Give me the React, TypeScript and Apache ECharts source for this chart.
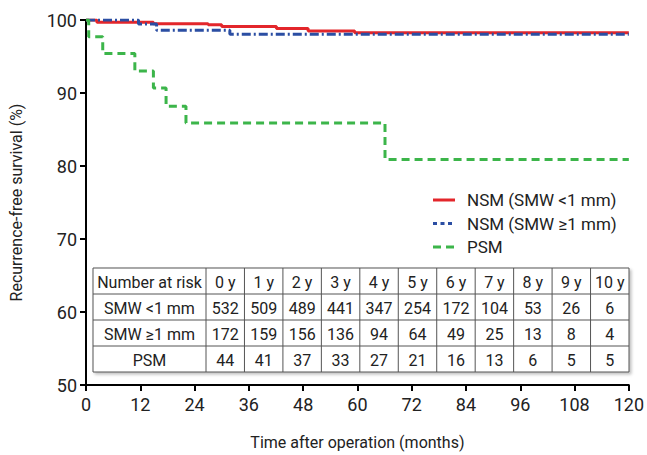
import React, { useEffect, useRef } from "react";
import * as echarts from "echarts";

// ---- Data ----
const seriesNames = ["NSM (SMW <1 mm)", "NSM (SMW \u22651 mm)", "PSM"];
const nsmLt1Times = [0, 2.4, 14.9, 27.0, 30.0, 42.1, 49.1, 59.4, 120];
const nsmLt1Surv = [100, 99.7, 99.5, 99.35, 99.1, 98.85, 98.5, 98.25, 98.25];
const nsmGe1Times = [0, 11.6, 15.6, 31.8, 120];
const nsmGe1Surv = [100, 99.45, 98.6, 98.05, 98.05];
const psmTimes = [0, 0.6, 3.7, 10.8, 14.9, 17.7, 22.1, 66.1, 120];
const psmSurv = [100, 97.7, 95.4, 93.0, 90.7, 88.2, 85.9, 80.9, 80.9];

const tableHeader = ["Number at risk", "0 y", "1 y", "2 y", "3 y", "4 y", "5 y", "6 y", "7 y", "8 y", "9 y", "10 y"];
const riskRowLabels = ["SMW <1 mm", "SMW \u22651 mm", "PSM"];
const riskLt1 = [532, 509, 489, 441, 347, 254, 172, 104, 53, 26, 6];
const riskGe1 = [172, 159, 156, 136, 94, 64, 49, 25, 13, 8, 4];
const riskPsm = [44, 41, 37, 33, 27, 21, 16, 13, 6, 5, 5];

const FONT = "'Liberation Sans Narrow', Roboto, 'Noto Sans', sans-serif";
const colors = ["#e3262b", "#2b4ea3", "#3cb54a"];
const legendDash: any[] = [null, [4, 3.5], [8, 5]];

function zip(t: number[], s: number[]) {
  return t.map((v, i) => [v, s[i]]);
}

function buildLegend() {
  const els: any[] = [];
  const x0 = 433;
  const y0 = 200;
  const gap = 23.5;
  seriesNames.forEach((name, i) => {
    const y = y0 + i * gap;
    els.push({
      type: "line",
      shape: { x1: x0, y1: y, x2: x0 + 22, y2: y },
      style: { stroke: colors[i], lineWidth: 3, lineDash: legendDash[i] },
      z: 20,
    });
    els.push({
      type: "text",
      x: x0 + 34,
      y: y,
      style: { text: name, fill: "#222", font: `17px ${FONT}`, align: "left", verticalAlign: "middle" },
      z: 20,
    });
  });
  return els;
}

function buildTable() {
  const left = 93;
  const top = 268;
  const firstW = 113;
  const right = 629;
  const rowH = 26;
  const nCols = tableHeader.length - 1;
  const colW = (right - left - firstW) / nCols;
  const rows = [tableHeader, ...[riskLt1, riskGe1, riskPsm].map((r, i) => [riskRowLabels[i], ...r.map(String)])];
  const height = rowH * rows.length;
  const els: any[] = [];
  els.push({
    type: "rect",
    shape: { x: left, y: top, width: right - left, height },
    style: {
      fill: "#fff",
      stroke: "#555",
      lineWidth: 1,
      shadowBlur: 3,
      shadowColor: "rgba(0,0,0,0.25)",
      shadowOffsetX: 2,
      shadowOffsetY: 2,
    },
    z: 10,
  });
  for (let r = 1; r < rows.length; r++) {
    els.push({
      type: "line",
      shape: { x1: left, y1: top + r * rowH, x2: right, y2: top + r * rowH },
      style: { stroke: "#555", lineWidth: 1 },
      z: 11,
    });
  }
  for (let c = 0; c < nCols; c++) {
    const x = left + firstW + c * colW;
    els.push({
      type: "line",
      shape: { x1: x, y1: top, x2: x, y2: top + height },
      style: { stroke: "#555", lineWidth: 1 },
      z: 11,
    });
  }
  rows.forEach((row, r) => {
    row.forEach((txt, c) => {
      const cx = c === 0 ? left + firstW / 2 : left + firstW + (c - 1) * colW + colW / 2;
      els.push({
        type: "text",
        x: cx,
        y: top + r * rowH + rowH / 2 + 1,
        style: {
          text: txt,
          fill: "#222",
          font: `16px ${FONT}`,
          align: "center",
          verticalAlign: "middle",
        },
        z: 12,
      });
    });
  });
  return els;
}

export default function App() {
  const ref = useRef<HTMLDivElement>(null);
  useEffect(() => {
    if (!ref.current) return;
    const chart = echarts.init(ref.current, undefined, { renderer: "svg" });
    const data = [zip(nsmLt1Times, nsmLt1Surv), zip(nsmGe1Times, nsmGe1Surv), zip(psmTimes, psmSurv)];
    const seriesDash: any[] = ["solid", [9, 3, 2, 3], [8, 5]];
    chart.setOption({
      animation: false,
      backgroundColor: "#fff",
      textStyle: { fontFamily: FONT },
      grid: { left: 86, right: 18, top: 20, bottom: 70 },
      xAxis: {
        type: "value",
        min: 0,
        max: 120,
        interval: 12,
        name: "Time after operation (months)",
        nameLocation: "middle",
        nameGap: 49,
        nameTextStyle: { fontSize: 16, color: "#222", fontFamily: FONT },
        axisLine: { lineStyle: { color: "#000", width: 2 } },
        axisTick: { length: 6, lineStyle: { color: "#000", width: 2 } },
        axisLabel: { fontSize: 18, color: "#222", margin: 10, fontFamily: FONT },
        splitLine: { show: false },
      },
      yAxis: {
        type: "value",
        min: 50,
        max: 100,
        interval: 10,
        name: "Recurrence-free survival (%)",
        nameLocation: "middle",
        nameGap: 62,
        nameTextStyle: { fontSize: 16, color: "#222", fontFamily: FONT },
        axisLine: { show: true, lineStyle: { color: "#000", width: 2 } },
        axisTick: { show: true, length: 6, lineStyle: { color: "#000", width: 2 } },
        axisLabel: { fontSize: 18, color: "#222", margin: 9, fontFamily: FONT },
        splitLine: { show: false },
      },
      series: seriesNames.map((name, i) => ({
        name,
        type: "line",
        step: "end",
        showSymbol: false,
        symbol: "none",
        data: data[i],
        z: 2 + i,
        lineStyle: { color: colors[i], width: 3, type: seriesDash[i] },
        itemStyle: { color: colors[i] },
      })),
      graphic: [...buildTable(), ...buildLegend()],
    });
    return () => chart.dispose();
  }, []);
  return <div ref={ref} style={{ position: "absolute", left: 0, top: 0, width: 647, height: 455 }} />;
}
